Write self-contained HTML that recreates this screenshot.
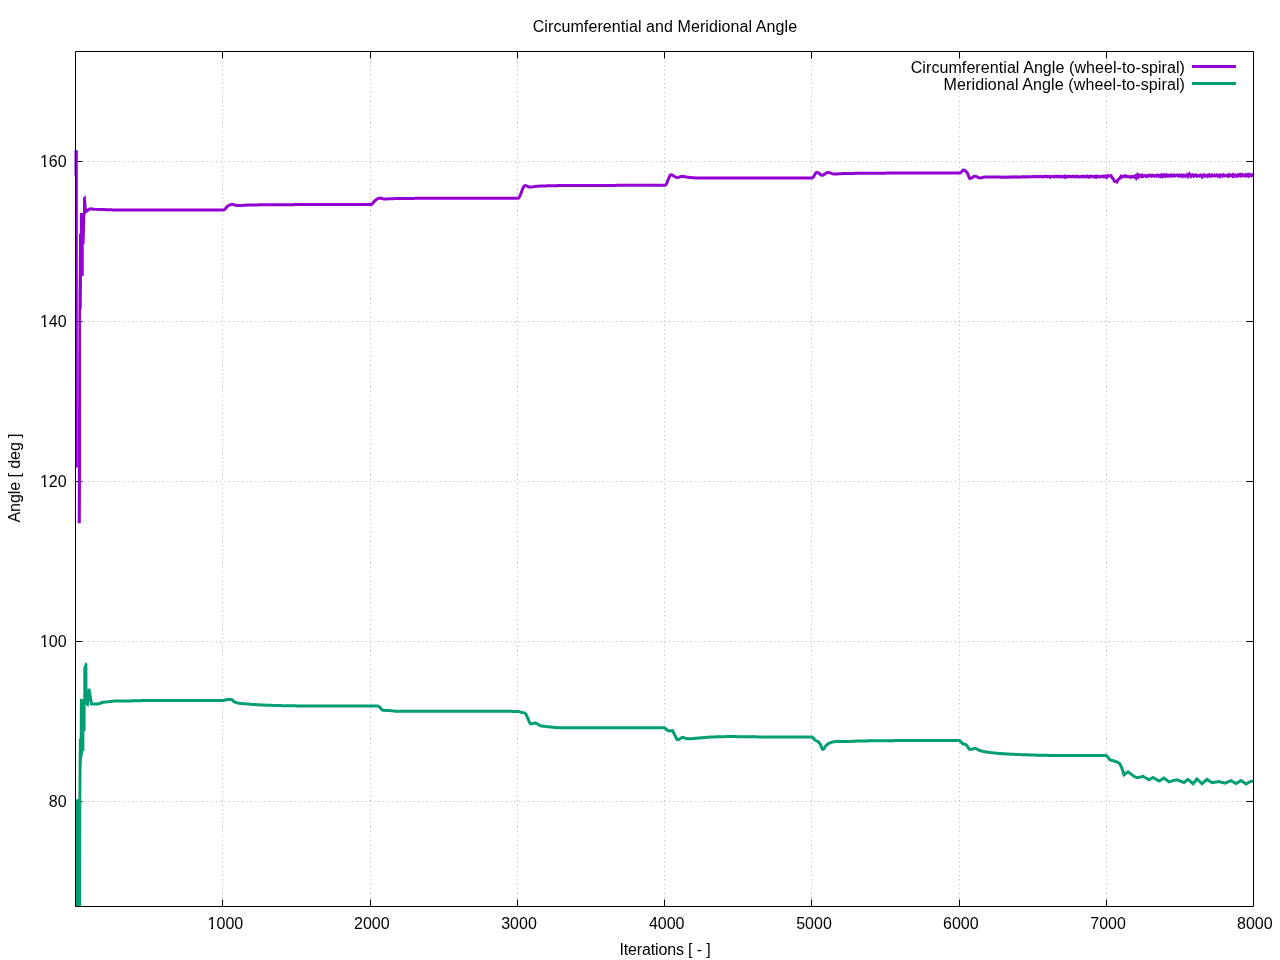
<!DOCTYPE html>
<html><head><meta charset="utf-8"><title>Circumferential and Meridional Angle</title>
<style>html,body{margin:0;padding:0;background:#fff;}svg{display:block;}</style></head>
<body><svg width="1280" height="960" viewBox="0 0 1280 960">
<defs><clipPath id="pc"><rect x="60" y="40" width="1210" height="866.5"/></clipPath></defs>
<rect width="1280" height="960" fill="#fff"/>
<path d="M222.5 51.5V906.5M370.5 51.5V906.5M517.5 51.5V906.5M664.5 51.5V906.5M811.5 51.5V906.5M959.5 51.5V906.5M1106.5 51.5V906.5" stroke="#b4b4b4" stroke-width="1" stroke-dasharray="1 3.4" stroke-dashoffset="3.7" fill="none"/>
<path d="M75.5 801.5H1253.5M75.5 641.5H1253.5M75.5 481.5H1253.5M75.5 321.5H1253.5M75.5 161.5H1253.5" stroke="#b4b4b4" stroke-width="1" stroke-dasharray="1 3.4" stroke-dashoffset="0.5" fill="none"/>
<path d="M222.5 906.5v-7M222.5 51.5v7M370.5 906.5v-7M370.5 51.5v7M517.5 906.5v-7M517.5 51.5v7M664.5 906.5v-7M664.5 51.5v7M811.5 906.5v-7M811.5 51.5v7M959.5 906.5v-7M959.5 51.5v7M1106.5 906.5v-7M1106.5 51.5v7M75.5 801.5h7M1253.5 801.5h-7M75.5 641.5h7M1253.5 641.5h-7M75.5 481.5h7M1253.5 481.5h-7M75.5 321.5h7M1253.5 321.5h-7M75.5 161.5h7M1253.5 161.5h-7" stroke="#000" stroke-width="1" fill="none"/>
<path d="M86.20,703.50 87.40,704.30 88.90,688.80 91.40,703.80 93.00,704.00 97.00,704.00 100.00,703.50 100.70,703.08 101.40,702.71 102.00,702.50 102.10,702.48 102.80,702.35 103.50,702.24 104.20,702.14 104.90,702.06 105.60,701.99 106.30,701.93 107.00,701.87 107.70,701.82 108.40,701.76 109.10,701.70 109.80,701.62 110.00,701.60 110.50,701.54 111.20,701.44 111.90,701.33 112.60,701.22 113.30,701.13 114.00,701.05 114.70,701.01 115.00,701.00 115.40,700.99 116.10,700.99 116.80,700.98 117.50,700.97 118.20,700.96 118.90,700.96 119.60,700.95 120.30,700.95 121.00,700.95 121.70,700.94 122.40,700.94 123.10,700.94 123.80,700.94 124.50,700.93 125.20,700.93 125.90,700.93 126.60,700.92 127.30,700.92 128.00,700.92 128.70,700.91 129.40,700.91 130.00,700.90 130.10,700.90 130.80,700.89 131.50,700.88 132.20,700.87 132.90,700.86 133.60,700.84 134.30,700.83 135.00,700.81 135.70,700.79 136.40,700.77 137.10,700.76 137.80,700.74 138.50,700.72 139.20,700.70 139.90,700.68 140.60,700.66 141.30,700.64 142.00,700.62 142.70,700.60 143.40,700.59 144.10,700.57 144.80,700.56 145.50,700.54 146.20,700.53 146.90,700.52 147.60,700.51 148.30,700.51 149.00,700.50 149.70,700.50 150.00,700.50 150.40,700.50 151.10,700.50 151.80,700.50 152.50,700.50 153.20,700.50 153.90,700.50 154.60,700.50 155.30,700.50 156.00,700.50 156.70,700.50 157.40,700.50 158.10,700.50 158.80,700.50 159.50,700.50 160.20,700.50 160.90,700.50 161.60,700.50 162.30,700.50 163.00,700.50 163.70,700.50 164.40,700.50 165.10,700.50 165.80,700.50 166.50,700.50 167.20,700.50 167.90,700.50 168.60,700.50 169.30,700.50 170.00,700.50 170.70,700.50 171.40,700.50 172.10,700.50 172.80,700.50 173.50,700.50 174.20,700.50 174.90,700.50 175.60,700.50 176.30,700.50 177.00,700.50 177.70,700.50 178.40,700.50 179.10,700.50 179.80,700.50 180.50,700.50 181.20,700.50 181.90,700.50 182.60,700.50 183.30,700.50 184.00,700.50 184.70,700.50 185.40,700.50 186.10,700.50 186.80,700.50 187.50,700.50 188.20,700.50 188.90,700.50 189.60,700.50 190.30,700.50 191.00,700.50 191.70,700.50 192.40,700.50 193.10,700.50 193.80,700.50 194.50,700.50 195.20,700.50 195.90,700.50 196.60,700.50 197.30,700.50 198.00,700.50 198.70,700.50 199.40,700.50 200.10,700.50 200.80,700.50 201.50,700.50 202.20,700.50 202.90,700.50 203.60,700.50 204.30,700.50 205.00,700.50 205.70,700.50 206.40,700.50 207.10,700.50 207.80,700.50 208.50,700.50 209.20,700.50 209.90,700.50 210.60,700.50 211.30,700.50 212.00,700.50 212.70,700.50 213.40,700.50 214.10,700.50 214.80,700.50 215.50,700.50 216.20,700.50 216.90,700.50 217.60,700.50 218.30,700.50 219.00,700.50 219.70,700.50 220.40,700.50 221.10,700.50 221.80,700.50 222.50,700.50 223.00,700.50 223.20,700.49 223.90,700.33 224.60,700.10 225.00,700.00 225.30,699.94 226.00,699.80 226.70,699.66 227.40,699.54 228.10,699.45 228.80,699.40 229.00,699.40 229.50,699.41 230.20,699.44 230.90,699.49 231.00,699.50 231.60,699.66 232.30,700.07 233.00,700.63 233.70,701.22 234.40,701.76 235.00,702.10 235.10,702.14 235.80,702.44 236.50,702.70 237.20,702.92 237.90,703.08 238.00,703.10 238.60,703.19 239.30,703.28 240.00,703.35 240.70,703.42 241.40,703.48 242.10,703.53 242.80,703.58 243.50,703.63 244.20,703.68 244.90,703.74 245.00,703.75 245.60,703.80 246.30,703.87 247.00,703.93 247.70,704.00 248.40,704.07 249.10,704.13 249.80,704.20 250.50,704.26 251.20,704.32 251.90,704.38 252.60,704.44 253.30,704.49 254.00,704.54 254.70,704.58 255.00,704.60 255.40,704.62 256.10,704.66 256.80,704.70 257.50,704.74 258.20,704.78 258.90,704.81 259.60,704.85 260.30,704.89 261.00,704.92 261.70,704.95 262.40,704.99 263.10,705.02 263.80,705.05 264.50,705.08 265.20,705.12 265.90,705.15 266.60,705.18 267.30,705.20 268.00,705.23 268.70,705.26 269.40,705.29 270.10,705.31 270.80,705.34 271.50,705.36 272.20,705.39 272.90,705.41 273.60,705.43 274.30,705.45 275.00,705.47 275.70,705.49 276.40,705.51 277.10,705.53 277.80,705.55 278.50,705.57 279.20,705.58 279.90,705.60 280.00,705.60 280.60,705.61 281.30,705.63 282.00,705.64 282.70,705.66 283.40,705.67 284.10,705.68 284.80,705.70 285.50,705.71 286.20,705.73 286.90,705.74 287.60,705.75 288.30,705.76 289.00,705.77 289.70,705.79 290.40,705.80 291.10,705.81 291.80,705.82 292.50,705.83 293.20,705.84 293.90,705.85 294.60,705.85 295.30,705.86 296.00,705.87 296.70,705.88 297.40,705.88 298.10,705.89 298.80,705.89 299.50,705.90 300.00,705.90 300.20,705.90 300.90,705.90 301.60,705.91 302.30,705.91 303.00,705.91 303.70,705.92 304.40,705.92 305.10,705.92 305.80,705.93 306.50,705.93 307.20,705.93 307.90,705.93 308.60,705.94 309.30,705.94 310.00,705.94 310.70,705.94 311.40,705.94 312.10,705.95 312.80,705.95 313.50,705.95 314.20,705.95 314.90,705.95 315.60,705.95 316.30,705.96 317.00,705.96 317.70,705.96 318.40,705.96 319.10,705.96 319.80,705.96 320.50,705.96 321.20,705.96 321.90,705.96 322.60,705.97 323.30,705.97 324.00,705.97 324.70,705.97 325.40,705.97 326.10,705.97 326.80,705.97 327.50,705.97 328.20,705.97 328.90,705.97 329.60,705.97 330.30,705.97 331.00,705.97 331.70,705.97 332.40,705.97 333.10,705.97 333.80,705.98 334.50,705.98 335.20,705.98 335.90,705.98 336.60,705.98 337.30,705.98 338.00,705.98 338.70,705.98 339.40,705.98 340.10,705.98 340.80,705.98 341.50,705.98 342.20,705.98 342.90,705.98 343.60,705.98 344.30,705.98 345.00,705.98 345.70,705.99 346.40,705.99 347.10,705.99 347.80,705.99 348.50,705.99 349.20,705.99 349.90,705.99 350.60,705.99 351.30,705.99 352.00,705.99 352.70,706.00 353.40,706.00 354.10,706.00 354.80,706.00 355.50,706.00 356.20,706.00 356.90,706.00 357.60,706.01 358.30,706.01 359.00,706.01 359.70,706.01 360.40,706.01 361.10,706.02 361.80,706.02 362.50,706.02 363.20,706.02 363.90,706.03 364.60,706.03 365.30,706.03 366.00,706.03 366.70,706.04 367.40,706.04 368.10,706.04 368.80,706.05 369.50,706.05 370.20,706.05 370.90,706.06 371.60,706.06 372.30,706.06 373.00,706.07 373.70,706.07 374.40,706.08 375.10,706.08 375.80,706.08 376.50,706.09 377.20,706.09 377.90,706.10 378.00,706.10 378.60,706.26 379.30,706.78 380.00,707.52 380.70,708.36 381.40,709.18 382.10,709.84 382.80,710.21 383.00,710.25 383.50,710.30 384.20,710.35 384.90,710.39 385.60,710.42 386.30,710.45 387.00,710.47 387.70,710.49 388.40,710.52 389.10,710.55 389.80,710.59 390.00,710.60 390.50,710.64 391.20,710.70 391.90,710.78 392.60,710.87 393.30,710.96 394.00,711.04 394.70,711.12 395.40,711.18 396.10,711.23 396.80,711.25 397.00,711.25 397.50,711.25 398.20,711.25 398.90,711.25 399.60,711.25 400.30,711.25 401.00,711.25 401.70,711.25 402.40,711.25 403.10,711.25 403.80,711.25 404.50,711.25 405.20,711.25 405.90,711.25 406.60,711.25 407.30,711.25 408.00,711.25 408.70,711.25 409.40,711.25 410.10,711.25 410.80,711.25 411.50,711.25 412.20,711.25 412.90,711.25 413.60,711.25 414.30,711.25 415.00,711.25 415.70,711.25 416.40,711.25 417.10,711.25 417.80,711.25 418.50,711.25 419.20,711.25 419.90,711.25 420.00,711.25 420.60,711.25 421.30,711.25 422.00,711.25 422.70,711.25 423.40,711.25 424.10,711.25 424.80,711.25 425.50,711.25 426.20,711.25 426.90,711.25 427.60,711.25 428.30,711.25 429.00,711.25 429.70,711.25 430.40,711.25 431.10,711.25 431.80,711.25 432.50,711.25 433.20,711.25 433.90,711.25 434.60,711.25 435.30,711.25 436.00,711.25 436.70,711.25 437.40,711.25 438.10,711.25 438.80,711.25 439.50,711.25 440.20,711.25 440.90,711.25 441.60,711.25 442.30,711.25 443.00,711.25 443.70,711.25 444.40,711.25 445.10,711.25 445.80,711.25 446.50,711.25 447.20,711.25 447.90,711.25 448.60,711.26 449.30,711.26 450.00,711.26 450.70,711.26 451.40,711.26 452.10,711.26 452.80,711.26 453.50,711.26 454.20,711.26 454.90,711.26 455.60,711.26 456.30,711.26 457.00,711.26 457.70,711.26 458.40,711.26 459.10,711.26 459.80,711.26 460.50,711.26 461.20,711.26 461.90,711.26 462.60,711.26 463.30,711.27 464.00,711.27 464.70,711.27 465.40,711.27 466.10,711.27 466.80,711.27 467.50,711.27 468.20,711.27 468.90,711.27 469.60,711.27 470.30,711.27 471.00,711.27 471.70,711.27 472.40,711.28 473.10,711.28 473.80,711.28 474.50,711.28 475.20,711.28 475.90,711.28 476.60,711.28 477.30,711.28 478.00,711.28 478.70,711.29 479.40,711.29 480.10,711.29 480.80,711.29 481.50,711.29 482.20,711.29 482.90,711.29 483.60,711.29 484.30,711.30 485.00,711.30 485.70,711.30 486.40,711.30 487.10,711.30 487.80,711.30 488.50,711.30 489.20,711.31 489.90,711.31 490.60,711.31 491.30,711.31 492.00,711.31 492.70,711.31 493.40,711.32 494.10,711.32 494.80,711.32 495.50,711.32 496.20,711.32 496.90,711.33 497.60,711.33 498.30,711.33 499.00,711.33 499.70,711.33 500.40,711.34 501.10,711.34 501.80,711.34 502.50,711.34 503.20,711.34 503.90,711.35 504.60,711.35 505.30,711.35 506.00,711.35 506.70,711.36 507.40,711.36 508.10,711.36 508.80,711.36 509.50,711.37 510.20,711.37 510.90,711.37 511.60,711.37 512.30,711.38 513.00,711.38 513.70,711.38 514.40,711.38 515.10,711.39 515.80,711.39 516.50,711.39 517.20,711.40 517.90,711.40 518.00,711.40 518.60,711.45 519.30,711.61 520.00,711.84 520.70,712.09 521.40,712.33 522.00,712.50 522.10,712.52 522.80,712.65 523.50,712.75 524.20,712.88 524.90,713.06 525.00,713.10 525.60,713.64 526.30,714.91 527.00,716.52 527.70,718.14 528.00,718.75 528.40,719.61 529.10,721.37 529.80,722.95 530.50,723.74 530.60,723.75 531.20,723.72 531.90,723.64 532.60,723.52 533.30,723.39 534.00,723.26 534.70,723.16 535.40,723.10 535.60,723.10 536.10,723.18 536.80,723.50 537.50,723.99 538.20,724.54 538.90,725.07 539.60,725.47 540.00,725.60 540.30,725.67 541.00,725.81 541.70,725.95 542.40,726.06 543.10,726.17 543.80,726.26 544.50,726.35 545.20,726.43 545.90,726.51 546.60,726.57 547.30,726.64 548.00,726.71 548.70,726.77 549.40,726.84 550.00,726.90 550.10,726.91 550.80,726.98 551.50,727.06 552.20,727.14 552.90,727.22 553.60,727.30 554.30,727.38 555.00,727.45 555.70,727.52 556.40,727.58 557.10,727.64 557.80,727.68 558.50,727.72 559.20,727.74 559.90,727.75 560.00,727.75 560.60,727.75 561.30,727.75 562.00,727.75 562.70,727.75 563.40,727.75 564.10,727.75 564.80,727.76 565.50,727.76 566.20,727.76 566.90,727.76 567.60,727.76 568.30,727.76 569.00,727.76 569.70,727.76 570.40,727.76 571.10,727.76 571.80,727.76 572.50,727.76 573.20,727.76 573.90,727.76 574.60,727.76 575.30,727.76 576.00,727.77 576.70,727.77 577.40,727.77 578.10,727.77 578.80,727.77 579.50,727.77 580.20,727.77 580.90,727.77 581.60,727.77 582.30,727.77 583.00,727.77 583.70,727.77 584.40,727.77 585.10,727.77 585.80,727.77 586.50,727.77 587.20,727.77 587.90,727.77 588.60,727.77 589.30,727.77 590.00,727.77 590.70,727.77 591.40,727.77 592.10,727.77 592.80,727.77 593.50,727.77 594.20,727.77 594.90,727.77 595.60,727.77 596.30,727.77 597.00,727.77 597.70,727.77 598.40,727.77 599.10,727.77 599.80,727.77 600.50,727.77 601.20,727.77 601.90,727.77 602.60,727.77 603.30,727.77 604.00,727.77 604.70,727.77 605.40,727.77 606.10,727.77 606.80,727.77 607.50,727.77 608.20,727.77 608.90,727.77 609.60,727.77 610.30,727.77 611.00,727.77 611.70,727.77 612.40,727.77 613.10,727.77 613.80,727.77 614.50,727.77 615.20,727.77 615.90,727.77 616.60,727.77 617.30,727.77 618.00,727.77 618.70,727.77 619.40,727.77 620.10,727.77 620.80,727.77 621.50,727.77 622.20,727.77 622.90,727.77 623.60,727.78 624.30,727.78 625.00,727.78 625.70,727.78 626.40,727.78 627.10,727.78 627.80,727.78 628.50,727.78 629.20,727.78 629.90,727.78 630.60,727.78 631.30,727.78 632.00,727.78 632.70,727.78 633.40,727.78 634.10,727.78 634.80,727.78 635.50,727.78 636.20,727.78 636.90,727.78 637.60,727.78 638.30,727.78 639.00,727.78 639.70,727.78 640.40,727.78 641.10,727.78 641.80,727.78 642.50,727.78 643.20,727.78 643.90,727.78 644.60,727.78 645.30,727.78 646.00,727.78 646.70,727.78 647.40,727.78 648.10,727.78 648.80,727.78 649.50,727.78 650.20,727.79 650.90,727.79 651.60,727.79 652.30,727.79 653.00,727.79 653.70,727.79 654.40,727.79 655.10,727.79 655.80,727.79 656.50,727.79 657.20,727.79 657.90,727.79 658.60,727.79 659.30,727.79 660.00,727.79 660.70,727.80 661.40,727.80 662.10,727.80 662.80,727.80 663.50,727.80 664.00,727.80 664.20,727.82 664.90,728.07 665.60,728.57 666.30,729.21 667.00,729.87 667.70,730.46 668.40,730.87 669.00,731.00 669.10,731.00 669.80,730.93 670.50,730.80 671.20,730.67 671.90,730.60 672.00,730.60 672.60,730.96 673.30,732.07 674.00,733.56 674.70,735.06 675.00,735.60 675.40,736.35 676.10,737.88 676.80,739.19 677.50,739.75 677.50,739.75 678.20,739.63 678.90,739.32 679.60,738.89 680.30,738.42 681.00,737.99 681.70,737.65 682.40,737.50 682.50,737.50 683.10,737.54 683.80,737.68 684.50,737.88 685.20,738.11 685.90,738.34 686.60,738.55 687.30,738.69 688.00,738.75 688.00,738.75 688.70,738.74 689.40,738.73 690.10,738.70 690.80,738.67 691.50,738.63 692.20,738.58 692.90,738.53 693.60,738.47 694.30,738.41 695.00,738.35 695.70,738.28 696.40,738.22 697.10,738.15 697.80,738.09 698.50,738.02 699.20,737.96 699.90,737.91 700.00,737.90 700.60,737.85 701.30,737.79 702.00,737.73 702.70,737.67 703.40,737.60 704.10,737.54 704.80,737.47 705.50,737.41 706.20,737.35 706.90,737.29 707.60,737.24 708.30,737.19 709.00,737.15 709.70,737.11 710.00,737.10 710.40,737.08 711.10,737.06 711.80,737.03 712.50,737.00 713.20,736.97 713.90,736.95 714.60,736.92 715.30,736.90 716.00,736.87 716.70,736.85 717.40,736.83 718.10,736.80 718.80,736.78 719.50,736.76 720.20,736.74 720.90,736.73 721.60,736.71 722.30,736.69 723.00,736.68 723.70,736.66 724.40,736.65 725.10,736.64 725.80,736.63 726.50,736.62 727.20,736.61 727.90,736.61 728.60,736.60 729.30,736.60 730.00,736.60 730.00,736.60 730.70,736.60 731.40,736.60 732.10,736.60 732.80,736.60 733.50,736.61 734.20,736.61 734.90,736.61 735.60,736.62 736.30,736.62 737.00,736.63 737.70,736.63 738.40,736.64 739.10,736.64 739.80,736.65 740.50,736.66 741.20,736.66 741.90,736.67 742.60,736.68 743.30,736.69 744.00,736.70 744.70,736.70 745.40,736.71 746.10,736.72 746.80,736.73 747.50,736.74 748.20,736.75 748.90,736.76 749.60,736.77 750.30,736.78 751.00,736.79 751.70,736.80 752.40,736.81 753.10,736.82 753.80,736.83 754.50,736.84 755.20,736.85 755.90,736.86 756.60,736.87 757.30,736.88 758.00,736.89 758.70,736.91 759.40,736.92 760.10,736.93 760.80,736.94 761.50,736.95 762.20,736.96 762.90,736.96 763.60,736.97 764.30,736.98 765.00,736.99 765.70,737.00 766.40,737.01 767.10,737.02 767.80,737.03 768.50,737.03 769.20,737.04 769.90,737.05 770.60,737.05 771.30,737.06 772.00,737.07 772.70,737.07 773.40,737.08 774.10,737.08 774.80,737.08 775.50,737.09 776.20,737.09 776.90,737.09 777.60,737.10 778.30,737.10 779.00,737.10 779.70,737.10 780.00,737.10 780.40,737.10 781.10,737.10 781.80,737.10 782.50,737.10 783.20,737.10 783.90,737.10 784.60,737.10 785.30,737.10 786.00,737.10 786.70,737.10 787.40,737.10 788.10,737.10 788.80,737.10 789.50,737.10 790.20,737.10 790.90,737.10 791.60,737.10 792.30,737.10 793.00,737.10 793.70,737.10 794.40,737.10 795.10,737.10 795.80,737.10 796.50,737.10 797.20,737.10 797.90,737.10 798.60,737.10 799.30,737.10 800.00,737.10 800.70,737.10 801.40,737.10 802.10,737.10 802.80,737.10 803.50,737.10 804.20,737.10 804.90,737.10 805.60,737.10 806.30,737.10 807.00,737.10 807.70,737.10 808.40,737.10 809.10,737.10 809.80,737.10 810.50,737.10 811.20,737.10 811.90,737.10 812.00,737.10 812.60,737.34 813.30,738.04 814.00,738.94 814.70,739.75 815.00,740.00 815.40,740.25 816.10,740.60 816.80,740.92 817.50,741.28 818.00,741.60 818.20,741.75 818.90,742.41 819.60,743.23 820.00,743.75 820.30,744.23 821.00,745.81 821.70,747.57 822.40,748.94 823.00,749.40 823.10,749.39 823.80,748.87 824.50,747.84 825.20,746.65 825.90,745.70 826.00,745.60 826.60,745.08 827.30,744.50 828.00,743.98 828.70,743.53 829.40,743.15 830.00,742.90 830.10,742.86 830.80,742.62 831.50,742.38 832.20,742.16 832.90,741.96 833.60,741.79 834.30,741.65 835.00,741.55 835.70,741.51 836.00,741.50 836.40,741.50 837.10,741.50 837.80,741.51 838.50,741.52 839.20,741.53 839.90,741.54 840.60,741.55 841.30,741.56 842.00,741.57 842.70,741.58 843.40,741.59 844.10,741.60 844.80,741.60 845.00,741.60 845.50,741.60 846.20,741.59 846.90,741.58 847.60,741.56 848.30,741.54 849.00,741.51 849.70,741.48 850.40,741.44 851.10,741.41 851.80,741.37 852.50,741.33 853.20,741.29 853.90,741.25 854.60,741.22 855.30,741.18 856.00,741.14 856.70,741.11 857.40,741.08 858.10,741.05 858.80,741.03 859.50,741.01 860.00,741.00 860.20,741.00 860.90,740.98 861.60,740.97 862.30,740.96 863.00,740.95 863.70,740.94 864.40,740.93 865.10,740.92 865.80,740.90 866.50,740.89 867.20,740.88 867.90,740.87 868.60,740.86 869.30,740.85 870.00,740.84 870.70,740.83 871.40,740.83 872.10,740.82 872.80,740.81 873.50,740.80 874.20,740.79 874.90,740.78 875.60,740.77 876.30,740.77 877.00,740.76 877.70,740.75 878.40,740.74 879.10,740.74 879.80,740.73 880.50,740.72 881.20,740.72 881.90,740.71 882.60,740.70 883.30,740.70 884.00,740.69 884.70,740.68 885.40,740.68 886.10,740.67 886.80,740.67 887.50,740.66 888.20,740.66 888.90,740.65 889.60,740.65 890.30,740.64 891.00,740.64 891.70,740.64 892.40,740.63 893.10,740.63 893.80,740.63 894.50,740.62 895.20,740.62 895.90,740.62 896.60,740.61 897.30,740.61 898.00,740.61 898.70,740.60 899.40,740.60 900.00,740.60 900.10,740.60 900.80,740.60 901.50,740.60 902.20,740.59 902.90,740.59 903.60,740.59 904.30,740.59 905.00,740.59 905.70,740.58 906.40,740.58 907.10,740.58 907.80,740.58 908.50,740.58 909.20,740.57 909.90,740.57 910.60,740.57 911.30,740.57 912.00,740.57 912.70,740.56 913.40,740.56 914.10,740.56 914.80,740.56 915.50,740.56 916.20,740.56 916.90,740.55 917.60,740.55 918.30,740.55 919.00,740.55 919.70,740.55 920.40,740.55 921.10,740.54 921.80,740.54 922.50,740.54 923.20,740.54 923.90,740.54 924.60,740.54 925.30,740.54 926.00,740.53 926.70,740.53 927.40,740.53 928.10,740.53 928.80,740.53 929.50,740.53 930.20,740.53 930.90,740.53 931.60,740.52 932.30,740.52 933.00,740.52 933.70,740.52 934.40,740.52 935.10,740.52 935.80,740.52 936.50,740.52 937.20,740.52 937.90,740.51 938.60,740.51 939.30,740.51 940.00,740.51 940.70,740.51 941.40,740.51 942.10,740.51 942.80,740.51 943.50,740.51 944.20,740.51 944.90,740.51 945.60,740.51 946.30,740.51 947.00,740.50 947.70,740.50 948.40,740.50 949.10,740.50 949.80,740.50 950.50,740.50 951.20,740.50 951.90,740.50 952.60,740.50 953.30,740.50 954.00,740.50 954.70,740.50 955.40,740.50 956.10,740.50 956.80,740.50 957.50,740.50 958.20,740.50 958.90,740.50 959.00,740.50 959.60,740.66 960.30,741.17 961.00,741.89 961.70,742.67 962.40,743.35 963.00,743.75 963.10,743.79 963.80,744.05 964.50,744.23 965.20,744.43 965.90,744.70 966.00,744.75 966.60,745.25 967.30,746.20 968.00,747.33 968.70,748.39 969.40,749.16 970.00,749.40 970.10,749.40 970.80,749.34 971.50,749.21 972.20,749.03 972.90,748.84 973.60,748.67 974.30,748.55 975.00,748.50 975.00,748.50 975.70,748.59 976.40,748.82 977.10,749.16 977.80,749.55 978.50,749.95 979.20,750.30 979.90,750.57 980.00,750.60 980.60,750.76 981.30,750.94 982.00,751.11 982.70,751.26 983.40,751.41 984.10,751.56 984.80,751.69 985.50,751.82 986.20,751.94 986.90,752.05 987.60,752.16 988.30,752.27 989.00,752.37 989.70,752.46 990.00,752.50 990.40,752.55 991.10,752.64 991.80,752.72 992.50,752.81 993.20,752.88 993.90,752.96 994.60,753.03 995.30,753.10 996.00,753.17 996.70,753.23 997.40,753.29 998.10,753.35 998.80,753.41 999.50,753.46 1000.00,753.50 1000.20,753.51 1000.90,753.57 1001.60,753.61 1002.30,753.66 1003.00,753.71 1003.70,753.76 1004.40,753.80 1005.10,753.85 1005.80,753.89 1006.50,753.94 1007.20,753.98 1007.90,754.02 1008.60,754.06 1009.30,754.10 1010.00,754.14 1010.70,754.18 1011.40,754.22 1012.10,754.25 1012.80,754.29 1013.50,754.32 1014.20,754.36 1014.90,754.39 1015.60,754.42 1016.30,754.45 1017.00,754.48 1017.70,754.51 1018.40,754.54 1019.10,754.57 1019.80,754.59 1020.00,754.60 1020.50,754.62 1021.20,754.64 1021.90,754.67 1022.60,754.70 1023.30,754.72 1024.00,754.75 1024.70,754.77 1025.40,754.80 1026.10,754.82 1026.80,754.85 1027.50,754.87 1028.20,754.89 1028.90,754.92 1029.60,754.94 1030.30,754.97 1031.00,754.99 1031.70,755.01 1032.40,755.03 1033.10,755.06 1033.80,755.08 1034.50,755.10 1035.20,755.12 1035.90,755.14 1036.60,755.16 1037.30,755.18 1038.00,755.19 1038.70,755.21 1039.40,755.23 1040.10,755.25 1040.80,755.26 1041.50,755.28 1042.20,755.29 1042.90,755.31 1043.60,755.32 1044.30,755.33 1045.00,755.34 1045.70,755.35 1046.40,755.36 1047.10,755.37 1047.80,755.38 1048.50,755.39 1049.20,755.39 1049.90,755.40 1050.00,755.40 1050.60,755.40 1051.30,755.41 1052.00,755.41 1052.70,755.42 1053.40,755.42 1054.10,755.42 1054.80,755.43 1055.50,755.43 1056.20,755.43 1056.90,755.44 1057.60,755.44 1058.30,755.44 1059.00,755.44 1059.70,755.45 1060.40,755.45 1061.10,755.45 1061.80,755.45 1062.50,755.46 1063.20,755.46 1063.90,755.46 1064.60,755.46 1065.30,755.46 1066.00,755.46 1066.70,755.46 1067.40,755.47 1068.10,755.47 1068.80,755.47 1069.50,755.47 1070.20,755.47 1070.90,755.47 1071.60,755.47 1072.30,755.47 1073.00,755.47 1073.70,755.47 1074.40,755.47 1075.10,755.47 1075.80,755.48 1076.50,755.48 1077.20,755.48 1077.90,755.48 1078.60,755.48 1079.30,755.48 1080.00,755.48 1080.70,755.48 1081.40,755.48 1082.10,755.48 1082.80,755.48 1083.50,755.49 1084.20,755.49 1084.90,755.49 1085.60,755.49 1086.30,755.49 1087.00,755.49 1087.70,755.49 1088.40,755.50 1089.10,755.50 1089.80,755.50 1090.50,755.50 1091.20,755.51 1091.90,755.51 1092.60,755.51 1093.30,755.51 1094.00,755.52 1094.70,755.52 1095.40,755.52 1096.10,755.53 1096.80,755.53 1097.50,755.53 1098.20,755.54 1098.90,755.54 1099.60,755.55 1100.30,755.55 1101.00,755.56 1101.70,755.56 1102.40,755.57 1103.10,755.57 1103.80,755.58 1104.50,755.59 1105.20,755.59 1105.90,755.60 1106.00,755.60 1106.60,755.82 1107.30,756.50 1108.00,757.44 1108.70,758.44 1109.40,759.29 1110.00,759.75 1110.10,759.80 1110.80,760.08 1111.50,760.31 1112.20,760.49 1112.90,760.66 1113.60,760.83 1114.30,761.02 1115.00,761.25 1115.00,761.25 1115.70,761.50 1116.40,761.75 1117.10,762.02 1117.80,762.35 1118.50,762.75 1119.00,763.10 1119.20,763.27 1119.90,764.10 1120.60,765.30 1121.30,766.81 1122.00,768.59 1122.70,770.59 1123.40,772.77 1124.00,774.75 1128.00,771.90 1135.00,776.90 1138.00,777.75 1143.00,776.25 1149.00,779.75 1153.00,777.50 1159.00,781.00 1164.00,778.10 1169.00,781.90 1173.00,780.60 1177.00,779.75 1184.00,782.50 1188.00,779.40 1193.00,783.75 1197.00,779.00 1202.00,783.75 1207.00,779.40 1212.00,782.75 1219.00,781.60 1225.00,783.10 1231.00,780.60 1236.00,783.50 1241.00,780.60 1246.00,784.00 1250.00,781.60 1253.50,781.00" stroke="#009e73" stroke-width="3" fill="none" stroke-linejoin="miter" stroke-linecap="butt" clip-path="url(#pc)"/>
<path d="M75.80,907.00 75.80,799.20 78.40,799.20 78.60,770.00 78.90,738.70 79.70,738.70 79.90,698.90 83.30,698.90 83.30,668.00 83.90,666.00 85.90,662.10 87.40,664.00 87.40,700.00 86.50,705.00 85.60,704.00 85.60,731.00 84.40,731.00 84.40,751.00 83.30,751.00 81.90,760.00 81.50,770.00 81.30,799.20 81.10,907.00Z" fill="#009e73" clip-path="url(#pc)"/>
<path d="M85.50,211.50 87.00,211.00 88.50,209.60 90.50,208.80 94.00,209.30 100.00,209.40 100.70,209.43 101.40,209.46 102.10,209.49 102.80,209.52 103.50,209.55 104.20,209.58 104.90,209.61 105.60,209.64 106.30,209.66 107.00,209.69 107.70,209.72 108.40,209.74 109.10,209.77 109.80,209.79 110.00,209.80 110.50,209.82 111.20,209.84 111.90,209.87 112.60,209.90 113.30,209.93 114.00,209.95 114.70,209.98 115.40,210.01 116.10,210.03 116.80,210.05 117.50,210.07 118.20,210.08 118.90,210.09 119.60,210.10 120.00,210.10 120.30,210.10 121.00,210.10 121.70,210.10 122.40,210.10 123.10,210.10 123.80,210.10 124.50,210.10 125.20,210.10 125.90,210.10 126.60,210.10 127.30,210.10 128.00,210.10 128.70,210.10 129.40,210.10 130.10,210.10 130.80,210.10 131.50,210.09 132.20,210.09 132.90,210.09 133.60,210.09 134.30,210.09 135.00,210.09 135.70,210.09 136.40,210.09 137.10,210.09 137.80,210.09 138.50,210.09 139.20,210.09 139.90,210.08 140.60,210.08 141.30,210.08 142.00,210.08 142.70,210.08 143.40,210.08 144.10,210.08 144.80,210.08 145.50,210.08 146.20,210.07 146.90,210.07 147.60,210.07 148.30,210.07 149.00,210.07 149.70,210.07 150.40,210.07 151.10,210.07 151.80,210.07 152.50,210.06 153.20,210.06 153.90,210.06 154.60,210.06 155.30,210.06 156.00,210.06 156.70,210.06 157.40,210.05 158.10,210.05 158.80,210.05 159.50,210.05 160.20,210.05 160.90,210.05 161.60,210.05 162.30,210.05 163.00,210.04 163.70,210.04 164.40,210.04 165.10,210.04 165.80,210.04 166.50,210.04 167.20,210.04 167.90,210.04 168.60,210.03 169.30,210.03 170.00,210.03 170.70,210.03 171.40,210.03 172.10,210.03 172.80,210.03 173.50,210.03 174.20,210.02 174.90,210.02 175.60,210.02 176.30,210.02 177.00,210.02 177.70,210.02 178.40,210.02 179.10,210.02 179.80,210.02 180.50,210.01 181.20,210.01 181.90,210.01 182.60,210.01 183.30,210.01 184.00,210.01 184.70,210.01 185.40,210.01 186.10,210.01 186.80,210.01 187.50,210.01 188.20,210.01 188.90,210.01 189.60,210.00 190.30,210.00 191.00,210.00 191.70,210.00 192.40,210.00 193.10,210.00 193.80,210.00 194.50,210.00 195.20,210.00 195.90,210.00 196.60,210.00 197.30,210.00 198.00,210.00 198.70,210.00 199.40,210.00 200.00,210.00 200.10,210.00 200.80,210.00 201.50,210.00 202.20,210.00 202.90,210.00 203.60,210.00 204.30,210.00 205.00,210.00 205.70,210.00 206.40,210.00 207.10,210.00 207.80,210.00 208.50,210.00 209.20,210.00 209.90,210.00 210.60,210.00 211.30,210.00 212.00,210.00 212.70,210.00 213.40,210.00 214.10,210.00 214.80,210.00 215.50,210.00 216.20,210.00 216.90,210.00 217.60,210.00 218.30,210.00 219.00,210.00 219.70,210.00 220.40,210.00 221.10,210.00 221.80,210.00 222.50,210.00 223.20,210.00 223.50,210.00 223.90,209.93 224.60,209.49 225.30,208.78 226.00,207.94 226.70,207.08 227.40,206.34 228.00,205.90 228.10,205.85 228.80,205.47 229.50,205.12 230.20,204.80 230.90,204.56 231.60,204.42 232.00,204.40 232.30,204.41 233.00,204.49 233.70,204.63 234.40,204.82 235.10,205.03 235.80,205.23 236.50,205.41 237.20,205.54 237.90,205.60 238.00,205.60 238.60,205.60 239.30,205.58 240.00,205.56 240.70,205.53 241.40,205.49 242.10,205.45 242.80,205.41 243.50,205.36 244.20,205.31 244.90,205.26 245.60,205.21 246.30,205.16 247.00,205.12 247.70,205.08 248.40,205.05 249.10,205.02 249.80,205.00 250.00,205.00 250.50,204.99 251.20,204.98 251.90,204.97 252.60,204.96 253.30,204.95 254.00,204.94 254.70,204.93 255.40,204.92 256.10,204.91 256.80,204.90 257.50,204.89 258.20,204.88 258.90,204.87 259.60,204.87 260.30,204.86 261.00,204.85 261.70,204.84 262.40,204.83 263.10,204.83 263.80,204.82 264.50,204.81 265.20,204.81 265.90,204.80 266.60,204.79 267.30,204.79 268.00,204.78 268.70,204.77 269.40,204.77 270.10,204.76 270.80,204.76 271.50,204.75 272.20,204.75 272.90,204.74 273.60,204.74 274.30,204.73 275.00,204.73 275.70,204.72 276.40,204.72 277.10,204.71 277.80,204.71 278.50,204.70 279.20,204.70 279.90,204.69 280.60,204.69 281.30,204.69 282.00,204.68 282.70,204.68 283.40,204.68 284.10,204.67 284.80,204.67 285.50,204.66 286.20,204.66 286.90,204.66 287.60,204.65 288.30,204.65 289.00,204.65 289.70,204.64 290.40,204.64 291.10,204.64 291.80,204.64 292.50,204.63 293.20,204.63 293.90,204.63 294.60,204.62 295.30,204.62 296.00,204.62 296.70,204.61 297.40,204.61 298.10,204.61 298.80,204.61 299.50,204.60 300.00,204.60 300.20,204.60 300.90,204.60 301.60,204.59 302.30,204.59 303.00,204.59 303.70,204.59 304.40,204.58 305.10,204.58 305.80,204.58 306.50,204.58 307.20,204.57 307.90,204.57 308.60,204.57 309.30,204.57 310.00,204.57 310.70,204.57 311.40,204.56 312.10,204.56 312.80,204.56 313.50,204.56 314.20,204.56 314.90,204.56 315.60,204.56 316.30,204.55 317.00,204.55 317.70,204.55 318.40,204.55 319.10,204.55 319.80,204.55 320.50,204.55 321.20,204.55 321.90,204.55 322.60,204.55 323.30,204.54 324.00,204.54 324.70,204.54 325.40,204.54 326.10,204.54 326.80,204.54 327.50,204.54 328.20,204.54 328.90,204.54 329.60,204.54 330.30,204.54 331.00,204.54 331.70,204.54 332.40,204.54 333.10,204.53 333.80,204.53 334.50,204.53 335.20,204.53 335.90,204.53 336.60,204.53 337.30,204.53 338.00,204.53 338.70,204.53 339.40,204.53 340.10,204.53 340.80,204.52 341.50,204.52 342.20,204.52 342.90,204.52 343.60,204.52 344.30,204.52 345.00,204.52 345.70,204.52 346.40,204.51 347.10,204.51 347.80,204.51 348.50,204.51 349.20,204.51 349.90,204.51 350.60,204.50 351.30,204.50 352.00,204.50 352.70,204.50 353.40,204.50 354.10,204.49 354.80,204.49 355.50,204.49 356.20,204.49 356.90,204.48 357.60,204.48 358.30,204.48 359.00,204.47 359.70,204.47 360.40,204.47 361.10,204.46 361.80,204.46 362.50,204.46 363.20,204.45 363.90,204.45 364.60,204.44 365.30,204.44 366.00,204.44 366.70,204.43 367.40,204.43 368.10,204.42 368.80,204.42 369.50,204.41 370.20,204.41 370.90,204.40 371.00,204.40 371.60,204.25 372.30,203.76 373.00,203.03 373.70,202.17 374.40,201.29 375.10,200.49 375.80,199.88 376.00,199.75 376.50,199.46 377.20,199.06 377.90,198.69 378.60,198.39 379.30,198.18 380.00,198.10 380.00,198.10 380.70,198.15 381.40,198.29 382.10,198.48 382.80,198.69 383.50,198.88 384.20,199.03 384.90,199.10 385.00,199.10 385.60,199.09 386.30,199.05 387.00,198.99 387.70,198.93 388.40,198.86 389.10,198.80 389.80,198.76 390.00,198.75 390.50,198.73 391.20,198.71 391.90,198.69 392.60,198.67 393.30,198.65 394.00,198.64 394.70,198.62 395.40,198.60 396.10,198.59 396.80,198.57 397.50,198.56 398.20,198.54 398.90,198.53 399.60,198.52 400.30,198.51 401.00,198.50 401.70,198.49 402.40,198.48 403.10,198.47 403.80,198.46 404.50,198.45 405.20,198.44 405.90,198.43 406.60,198.43 407.30,198.42 408.00,198.41 408.70,198.41 409.40,198.40 410.00,198.40 410.10,198.40 410.80,198.39 411.50,198.39 412.20,198.39 412.90,198.38 413.60,198.38 414.30,198.37 415.00,198.37 415.70,198.36 416.40,198.36 417.10,198.36 417.80,198.35 418.50,198.35 419.20,198.35 419.90,198.34 420.60,198.34 421.30,198.34 422.00,198.33 422.70,198.33 423.40,198.33 424.10,198.32 424.80,198.32 425.50,198.32 426.20,198.31 426.90,198.31 427.60,198.31 428.30,198.30 429.00,198.30 429.70,198.30 430.40,198.30 431.10,198.29 431.80,198.29 432.50,198.29 433.20,198.29 433.90,198.29 434.60,198.28 435.30,198.28 436.00,198.28 436.70,198.28 437.40,198.27 438.10,198.27 438.80,198.27 439.50,198.27 440.20,198.27 440.90,198.27 441.60,198.26 442.30,198.26 443.00,198.26 443.70,198.26 444.40,198.26 445.10,198.26 445.80,198.26 446.50,198.26 447.20,198.25 447.90,198.25 448.60,198.25 449.30,198.25 450.00,198.25 450.00,198.25 450.70,198.25 451.40,198.25 452.10,198.25 452.80,198.25 453.50,198.25 454.20,198.25 454.90,198.24 455.60,198.24 456.30,198.24 457.00,198.24 457.70,198.24 458.40,198.24 459.10,198.24 459.80,198.24 460.50,198.24 461.20,198.24 461.90,198.24 462.60,198.24 463.30,198.24 464.00,198.24 464.70,198.24 465.40,198.24 466.10,198.24 466.80,198.24 467.50,198.24 468.20,198.24 468.90,198.24 469.60,198.24 470.30,198.23 471.00,198.23 471.70,198.23 472.40,198.23 473.10,198.23 473.80,198.23 474.50,198.23 475.20,198.23 475.90,198.23 476.60,198.23 477.30,198.23 478.00,198.23 478.70,198.23 479.40,198.23 480.10,198.23 480.80,198.23 481.50,198.23 482.20,198.23 482.90,198.23 483.60,198.23 484.30,198.23 485.00,198.23 485.70,198.23 486.40,198.23 487.10,198.23 487.80,198.23 488.50,198.23 489.20,198.23 489.90,198.23 490.60,198.23 491.30,198.23 492.00,198.23 492.70,198.23 493.40,198.23 494.10,198.23 494.80,198.23 495.50,198.23 496.20,198.23 496.90,198.23 497.60,198.23 498.30,198.22 499.00,198.22 499.70,198.22 500.40,198.22 501.10,198.22 501.80,198.22 502.50,198.22 503.20,198.22 503.90,198.22 504.60,198.22 505.30,198.22 506.00,198.22 506.70,198.22 507.40,198.22 508.10,198.22 508.80,198.21 509.50,198.21 510.20,198.21 510.90,198.21 511.60,198.21 512.30,198.21 513.00,198.21 513.70,198.21 514.40,198.21 515.10,198.21 515.80,198.20 516.50,198.20 517.20,198.20 517.90,198.20 518.00,198.20 518.60,197.94 519.30,197.06 520.00,195.70 520.70,194.02 521.40,192.17 522.10,190.29 522.80,188.55 523.50,187.09 524.20,186.06 524.90,185.61 525.00,185.60 525.60,185.66 526.30,185.85 527.00,186.13 527.70,186.44 528.40,186.74 529.10,186.97 529.80,187.09 530.00,187.10 530.50,187.09 531.20,187.04 531.90,186.97 532.60,186.87 533.30,186.75 534.00,186.64 534.70,186.52 535.40,186.41 536.10,186.32 536.80,186.26 537.00,186.25 537.50,186.22 538.20,186.19 538.90,186.16 539.60,186.12 540.30,186.09 541.00,186.06 541.70,186.03 542.40,186.01 543.10,185.98 543.80,185.95 544.50,185.93 545.20,185.90 545.90,185.88 546.60,185.86 547.30,185.84 548.00,185.82 548.70,185.80 549.40,185.78 550.10,185.76 550.80,185.74 551.50,185.73 552.20,185.71 552.90,185.70 553.60,185.69 554.30,185.67 555.00,185.66 555.70,185.65 556.40,185.64 557.10,185.63 557.80,185.62 558.50,185.62 559.20,185.61 559.90,185.60 560.00,185.60 560.60,185.59 561.30,185.59 562.00,185.58 562.70,185.58 563.40,185.57 564.10,185.57 564.80,185.56 565.50,185.55 566.20,185.55 566.90,185.54 567.60,185.54 568.30,185.53 569.00,185.53 569.70,185.52 570.40,185.52 571.10,185.52 571.80,185.51 572.50,185.51 573.20,185.50 573.90,185.50 574.60,185.49 575.30,185.49 576.00,185.49 576.70,185.48 577.40,185.48 578.10,185.48 578.80,185.47 579.50,185.47 580.20,185.47 580.90,185.46 581.60,185.46 582.30,185.46 583.00,185.45 583.70,185.45 584.40,185.45 585.10,185.45 585.80,185.44 586.50,185.44 587.20,185.44 587.90,185.44 588.60,185.43 589.30,185.43 590.00,185.43 590.70,185.43 591.40,185.42 592.10,185.42 592.80,185.42 593.50,185.42 594.20,185.42 594.90,185.41 595.60,185.41 596.30,185.41 597.00,185.41 597.70,185.41 598.40,185.40 599.10,185.40 599.80,185.40 600.00,185.40 600.50,185.40 601.20,185.40 601.90,185.40 602.60,185.39 603.30,185.39 604.00,185.39 604.70,185.39 605.40,185.39 606.10,185.39 606.80,185.39 607.50,185.39 608.20,185.38 608.90,185.38 609.60,185.38 610.30,185.38 611.00,185.38 611.70,185.38 612.40,185.38 613.10,185.38 613.80,185.38 614.50,185.38 615.20,185.38 615.90,185.38 616.60,185.37 617.30,185.37 618.00,185.37 618.70,185.37 619.40,185.37 620.10,185.37 620.80,185.37 621.50,185.37 622.20,185.37 622.90,185.37 623.60,185.37 624.30,185.37 625.00,185.37 625.70,185.37 626.40,185.37 627.10,185.37 627.80,185.37 628.50,185.37 629.20,185.37 629.90,185.37 630.60,185.37 631.30,185.37 632.00,185.36 632.70,185.36 633.40,185.36 634.10,185.36 634.80,185.36 635.50,185.36 636.20,185.36 636.90,185.36 637.60,185.36 638.30,185.36 639.00,185.36 639.70,185.36 640.40,185.36 641.10,185.36 641.80,185.36 642.50,185.36 643.20,185.36 643.90,185.35 644.60,185.35 645.30,185.35 646.00,185.35 646.70,185.35 647.40,185.35 648.10,185.35 648.80,185.35 649.50,185.35 650.20,185.34 650.90,185.34 651.60,185.34 652.30,185.34 653.00,185.34 653.70,185.34 654.40,185.34 655.10,185.33 655.80,185.33 656.50,185.33 657.20,185.33 657.90,185.33 658.60,185.32 659.30,185.32 660.00,185.32 660.70,185.32 661.40,185.31 662.10,185.31 662.80,185.31 663.50,185.31 664.20,185.30 664.90,185.30 665.00,185.30 665.60,185.00 666.30,184.03 667.00,182.56 667.70,180.81 668.40,178.97 669.10,177.25 669.80,175.85 670.50,174.96 671.00,174.75 671.20,174.76 671.90,174.92 672.60,175.23 673.30,175.65 674.00,176.13 674.70,176.60 675.40,177.02 676.10,177.33 676.80,177.49 677.00,177.50 677.50,177.47 678.20,177.35 678.90,177.18 679.60,176.97 680.30,176.77 681.00,176.60 681.70,176.51 682.00,176.50 682.40,176.51 683.10,176.54 683.80,176.60 684.50,176.69 685.20,176.79 685.90,176.90 686.60,177.02 687.30,177.14 688.00,177.25 688.70,177.35 689.40,177.44 690.00,177.50 690.10,177.51 690.80,177.57 691.50,177.63 692.20,177.68 692.90,177.74 693.60,177.80 694.30,177.85 695.00,177.90 695.70,177.95 696.40,177.99 697.10,178.03 697.80,178.06 698.50,178.08 699.20,178.09 699.90,178.10 700.00,178.10 700.60,178.10 701.30,178.10 702.00,178.10 702.70,178.10 703.40,178.10 704.10,178.10 704.80,178.09 705.50,178.09 706.20,178.09 706.90,178.09 707.60,178.09 708.30,178.09 709.00,178.08 709.70,178.08 710.40,178.08 711.10,178.07 711.80,178.07 712.50,178.07 713.20,178.07 713.90,178.06 714.60,178.06 715.30,178.06 716.00,178.05 716.70,178.05 717.40,178.04 718.10,178.04 718.80,178.04 719.50,178.03 720.20,178.03 720.90,178.02 721.60,178.02 722.30,178.02 723.00,178.01 723.70,178.01 724.40,178.00 725.10,178.00 725.80,178.00 726.50,177.99 727.20,177.99 727.90,177.98 728.60,177.98 729.30,177.97 730.00,177.97 730.70,177.97 731.40,177.96 732.10,177.96 732.80,177.95 733.50,177.95 734.20,177.95 734.90,177.94 735.60,177.94 736.30,177.94 737.00,177.93 737.70,177.93 738.40,177.93 739.10,177.92 739.80,177.92 740.50,177.92 741.20,177.92 741.90,177.91 742.60,177.91 743.30,177.91 744.00,177.91 744.70,177.91 745.40,177.90 746.10,177.90 746.80,177.90 747.50,177.90 748.20,177.90 748.90,177.90 749.60,177.90 750.00,177.90 750.30,177.90 751.00,177.90 751.70,177.90 752.40,177.90 753.10,177.90 753.80,177.90 754.50,177.90 755.20,177.90 755.90,177.90 756.60,177.90 757.30,177.90 758.00,177.90 758.70,177.91 759.40,177.91 760.10,177.91 760.80,177.91 761.50,177.91 762.20,177.91 762.90,177.91 763.60,177.91 764.30,177.91 765.00,177.91 765.70,177.92 766.40,177.92 767.10,177.92 767.80,177.92 768.50,177.92 769.20,177.92 769.90,177.92 770.60,177.93 771.30,177.93 772.00,177.93 772.70,177.93 773.40,177.93 774.10,177.93 774.80,177.94 775.50,177.94 776.20,177.94 776.90,177.94 777.60,177.94 778.30,177.94 779.00,177.95 779.70,177.95 780.40,177.95 781.10,177.95 781.80,177.95 782.50,177.95 783.20,177.96 783.90,177.96 784.60,177.96 785.30,177.96 786.00,177.96 786.70,177.96 787.40,177.97 788.10,177.97 788.80,177.97 789.50,177.97 790.20,177.97 790.90,177.97 791.60,177.97 792.30,177.98 793.00,177.98 793.70,177.98 794.40,177.98 795.10,177.98 795.80,177.98 796.50,177.98 797.20,177.99 797.90,177.99 798.60,177.99 799.30,177.99 800.00,177.99 800.70,177.99 801.40,177.99 802.10,177.99 802.80,177.99 803.50,177.99 804.20,178.00 804.90,178.00 805.60,178.00 806.30,178.00 807.00,178.00 807.70,178.00 808.40,178.00 809.10,178.00 809.80,178.00 810.50,178.00 811.20,178.00 811.90,178.00 812.00,178.00 812.60,177.77 813.30,177.04 814.00,175.98 814.70,174.78 815.40,173.64 816.10,172.74 816.80,172.28 817.00,172.25 817.50,172.33 818.20,172.69 818.90,173.22 819.60,173.84 820.30,174.45 821.00,174.94 821.70,175.22 822.00,175.25 822.40,175.21 823.10,175.01 823.80,174.66 824.50,174.22 825.20,173.74 825.90,173.27 826.60,172.88 827.30,172.60 828.00,172.50 828.00,172.50 828.70,172.56 829.40,172.71 830.10,172.92 830.80,173.18 831.50,173.44 832.20,173.68 832.90,173.87 833.60,173.98 834.00,174.00 834.30,174.00 835.00,173.99 835.70,173.97 836.40,173.95 837.10,173.91 837.80,173.88 838.50,173.83 839.20,173.79 839.90,173.74 840.60,173.70 841.30,173.66 842.00,173.61 842.70,173.58 843.40,173.55 844.10,173.52 844.80,173.50 845.00,173.50 845.50,173.49 846.20,173.48 846.90,173.47 847.60,173.46 848.30,173.45 849.00,173.44 849.70,173.43 850.40,173.42 851.10,173.41 851.80,173.41 852.50,173.40 853.20,173.39 853.90,173.38 854.60,173.37 855.30,173.36 856.00,173.35 856.70,173.35 857.40,173.34 858.10,173.33 858.80,173.32 859.50,173.31 860.20,173.31 860.90,173.30 861.60,173.29 862.30,173.28 863.00,173.28 863.70,173.27 864.40,173.26 865.10,173.26 865.80,173.25 866.50,173.25 867.20,173.24 867.90,173.23 868.60,173.23 869.30,173.22 870.00,173.22 870.70,173.21 871.40,173.21 872.10,173.20 872.80,173.20 873.50,173.19 874.20,173.19 874.90,173.18 875.60,173.18 876.30,173.17 877.00,173.17 877.70,173.16 878.40,173.16 879.10,173.16 879.80,173.15 880.50,173.15 881.20,173.15 881.90,173.14 882.60,173.14 883.30,173.14 884.00,173.13 884.70,173.13 885.40,173.13 886.10,173.12 886.80,173.12 887.50,173.12 888.20,173.12 888.90,173.12 889.60,173.11 890.30,173.11 891.00,173.11 891.70,173.11 892.40,173.11 893.10,173.11 893.80,173.10 894.50,173.10 895.20,173.10 895.90,173.10 896.60,173.10 897.30,173.10 898.00,173.10 898.70,173.10 899.40,173.10 900.00,173.10 900.10,173.10 900.80,173.10 901.50,173.10 902.20,173.10 902.90,173.10 903.60,173.10 904.30,173.10 905.00,173.10 905.70,173.10 906.40,173.10 907.10,173.10 907.80,173.10 908.50,173.10 909.20,173.10 909.90,173.10 910.60,173.10 911.30,173.10 912.00,173.10 912.70,173.10 913.40,173.10 914.10,173.10 914.80,173.10 915.50,173.10 916.20,173.10 916.90,173.10 917.60,173.10 918.30,173.10 919.00,173.10 919.70,173.10 920.40,173.10 921.10,173.10 921.80,173.10 922.50,173.10 923.20,173.10 923.90,173.10 924.60,173.10 925.30,173.10 926.00,173.10 926.70,173.10 927.40,173.10 928.10,173.10 928.80,173.10 929.50,173.10 930.20,173.10 930.90,173.10 931.60,173.10 932.30,173.10 933.00,173.10 933.70,173.10 934.40,173.10 935.10,173.10 935.80,173.10 936.50,173.10 937.20,173.10 937.90,173.10 938.60,173.10 939.30,173.10 940.00,173.10 940.70,173.10 941.40,173.10 942.10,173.10 942.80,173.10 943.50,173.10 944.20,173.10 944.90,173.10 945.60,173.10 946.30,173.10 947.00,173.10 947.70,173.10 948.40,173.10 949.10,173.10 949.80,173.10 950.50,173.10 951.20,173.10 951.90,173.10 952.60,173.10 953.30,173.10 954.00,173.10 954.70,173.10 955.40,173.10 956.10,173.10 956.80,173.10 957.50,173.10 958.20,173.10 958.90,173.10 959.60,173.10 960.00,173.10 960.30,173.04 961.00,172.49 961.70,171.62 962.40,170.73 963.10,170.11 963.50,170.00 963.80,170.03 964.50,170.28 965.20,170.74 965.90,171.36 966.60,172.08 967.00,172.50 967.30,172.93 968.00,174.53 968.70,176.44 969.40,177.98 970.00,178.50 970.10,178.50 970.80,178.35 971.50,178.01 972.20,177.58 972.90,177.11 973.60,176.68 974.30,176.37 975.00,176.25 975.00,176.25 975.70,176.34 976.40,176.57 977.10,176.88 977.80,177.22 978.50,177.54 979.20,177.79 979.90,177.90 980.00,177.90 980.60,177.87 981.30,177.77 982.00,177.62 982.70,177.45 983.40,177.29 984.10,177.17 984.80,177.10 985.00,177.10 985.50,177.10 986.20,177.10 986.90,177.10 987.60,177.10 988.30,177.10 989.00,177.10 989.70,177.10 990.40,177.10 991.10,177.10 991.80,177.10 992.50,177.10 993.20,177.10 993.90,177.10 994.60,177.10 995.30,177.10 996.00,177.10 996.70,177.10 997.40,177.10 998.10,177.10 998.80,177.10 999.50,177.10 1000.00,177.17 1001.46,177.05 1002.62,177.15 1003.44,177.01 1004.31,177.18 1005.22,177.01 1006.98,177.18 1008.78,177.00 1009.86,177.12 1010.96,176.89 1012.35,177.16 1013.70,176.83 1014.69,177.15 1015.80,176.84 1016.89,177.14 1017.92,176.80 1019.61,177.11 1021.41,176.81 1022.98,176.98 1023.80,176.68 1025.18,177.07 1026.68,176.64 1027.93,177.04 1029.21,176.58 1030.72,176.97 1032.35,176.60 1033.83,176.82 1034.78,176.41 1036.36,176.82 1037.55,176.40 1038.79,176.88 1040.43,176.36 1041.64,176.83 1043.41,176.48 1044.44,176.78 1045.83,176.17 1047.04,176.81 1048.82,176.31 1050.24,177.33 1051.95,176.28 1053.56,176.83 1054.45,176.30 1055.30,176.79 1056.43,176.23 1057.37,176.76 1058.18,176.22 1059.11,176.81 1060.27,176.43 1062.08,176.87 1062.95,176.43 1064.01,176.98 1064.81,176.18 1065.75,177.36 1067.07,176.17 1068.58,176.82 1069.53,176.22 1071.12,176.85 1072.75,176.15 1074.37,177.00 1075.38,176.29 1076.19,176.76 1077.24,176.23 1078.49,177.05 1080.26,176.33 1081.27,176.82 1082.70,176.15 1083.98,176.97 1084.85,176.22 1086.44,177.01 1087.41,176.18 1089.02,177.09 1090.22,176.12 1091.18,176.81 1092.90,176.16 1094.54,177.10 1095.68,176.24 1096.48,177.11 1097.80,176.10 1099.49,177.06 1100.53,176.32 1101.92,176.87 1102.84,176.10 1104.10,176.99 1105.31,176.09 1106.65,177.46 1107.88,175.51 1109.50,175.91 1111.03,175.72 1112.35,178.17 1113.24,178.69 1114.31,181.20 1115.67,181.31 1116.91,181.93 1118.22,179.43 1119.56,178.56 1121.07,176.26 1122.12,177.10 1123.77,176.03 1125.01,176.52 1125.87,175.75 1127.58,176.91 1129.05,176.52 1130.83,177.25 1132.03,176.30 1133.67,176.99 1134.99,176.03 1136.10,177.98 1137.46,174.89 1138.58,176.69 1139.43,175.19 1141.22,176.31 1142.04,175.24 1142.95,176.46 1144.59,175.48 1146.32,176.48 1147.19,175.55 1148.42,176.16 1149.86,175.09 1151.53,176.11 1152.78,175.31 1154.52,176.18 1155.85,175.32 1156.80,176.03 1157.90,175.26 1158.98,176.26 1160.13,175.40 1160.92,176.37 1161.90,175.13 1162.79,176.41 1164.08,174.91 1165.39,176.31 1166.53,174.90 1167.97,176.14 1168.81,175.28 1170.36,176.04 1171.22,174.87 1172.70,176.05 1173.79,175.07 1175.03,176.03 1176.82,175.02 1178.61,176.05 1179.39,175.11 1180.69,175.99 1181.47,175.17 1182.67,176.36 1183.77,175.19 1185.10,176.30 1186.62,174.83 1187.74,176.43 1189.27,174.00 1190.92,176.38 1192.47,174.87 1193.79,176.16 1195.41,174.86 1197.12,176.26 1198.13,175.30 1199.29,175.94 1200.65,174.97 1202.14,176.99 1203.75,174.90 1205.08,176.25 1206.63,175.18 1207.69,176.29 1209.24,174.77 1210.41,176.15 1211.99,174.97 1212.85,175.96 1214.41,175.15 1215.20,175.91 1216.68,174.93 1217.76,176.17 1219.02,175.25 1220.01,176.43 1220.81,175.06 1222.60,176.13 1223.60,174.78 1224.98,175.94 1226.75,175.21 1228.06,176.33 1229.08,174.76 1229.89,175.81 1231.14,175.06 1232.27,175.95 1233.05,174.78 1233.96,176.26 1235.68,174.99 1236.87,176.25 1238.02,174.86 1238.85,175.70 1239.93,174.54 1240.98,175.88 1242.15,174.47 1243.78,175.88 1245.54,174.62 1246.37,175.88 1247.93,174.50 1248.76,175.92 1250.03,174.62 1251.58,175.88 1253.04,174.56 1253.50,175.00" stroke="#9400d3" stroke-width="3" fill="none" stroke-linejoin="miter" stroke-linecap="butt" clip-path="url(#pc)"/>
<path d="M74.50,150.30 77.80,150.30 77.80,467.50 75.00,467.50 75.00,175.60 74.50,175.60Z" fill="#9400d3" clip-path="url(#pc)"/>
<path d="M77.70,523.30 78.30,349.00 78.50,300.00 79.00,250.00 79.00,233.75 79.90,233.75 79.90,213.10 83.00,213.10 83.00,198.00 85.60,195.00 86.80,208.75 86.80,211.00 85.25,215.00 84.60,244.00 83.75,244.00 83.75,276.00 82.00,276.00 81.70,308.75 81.00,310.00 81.00,467.50 80.80,523.30Z" fill="#9400d3" clip-path="url(#pc)"/>
<path d="M75.5 51.5H1253.5V906.5H75.5Z" stroke="#000" stroke-width="1" fill="none"/>
<path d="M1192 66.5H1236" stroke="#9400d3" stroke-width="3"/>
<path d="M1192 83.5H1236" stroke="#009e73" stroke-width="3"/>
<g font-family="'Liberation Sans', Arial, sans-serif" font-size="16" fill="#000" style="will-change:transform"><text x="664.9" y="32" text-anchor="middle" textLength="264.37">Circumferential and Meridional Angle</text><text x="225.4" y="929" text-anchor="middle">1000</text><text x="371.8" y="929" text-anchor="middle">2000</text><text x="519.0" y="929" text-anchor="middle">3000</text><text x="666.7" y="929" text-anchor="middle">4000</text><text x="814.0" y="929" text-anchor="middle">5000</text><text x="960.8" y="929" text-anchor="middle">6000</text><text x="1108.1" y="929" text-anchor="middle">7000</text><text x="1254.8" y="929" text-anchor="middle">8000</text><text x="66.65" y="807" text-anchor="end">80</text><text x="66.65" y="647" text-anchor="end">100</text><text x="66.65" y="487" text-anchor="end">120</text><text x="66.65" y="327" text-anchor="end">140</text><text x="66.65" y="167" text-anchor="end">160</text><text x="665.05" y="955" text-anchor="middle" textLength="91.08">Iterations [ - ]</text><text transform="translate(20 477.95) rotate(-90)" text-anchor="middle" textLength="89.14">Angle [ deg ]</text><text x="1184.94" y="73" text-anchor="end" textLength="274.22">Circumferential Angle (wheel-to-spiral)</text><text x="1184.94" y="90" text-anchor="end" textLength="241.34">Meridional Angle (wheel-to-spiral)</text></g>
<g fill="#fff"><rect x="207" y="927" width="4" height="2"/><rect x="213" y="927" width="3" height="2"/><rect x="41" y="165" width="3" height="2"/><rect x="46" y="165" width="3" height="2"/><rect x="41" y="325" width="3" height="2"/><rect x="46" y="325" width="3" height="2"/><rect x="41" y="485" width="3" height="2"/><rect x="46" y="485" width="3" height="2"/><rect x="41" y="645" width="3" height="2"/><rect x="46" y="645" width="3" height="2"/></g>
</svg></body></html>
